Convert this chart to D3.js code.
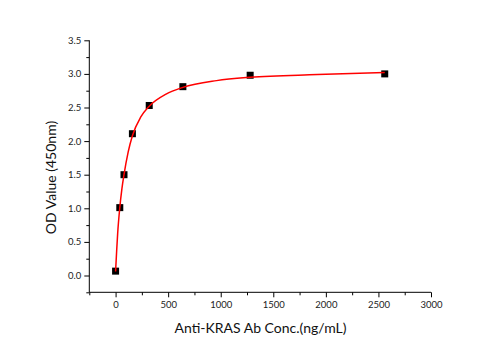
<!DOCTYPE html>
<html>
<head>
<meta charset="utf-8">
<script src="https://cdn.jsdelivr.net/npm/d3@7"></script>
<style>
  body { margin: 0; background: #fff; }
  text { font-family: Lato, "Open Sans", sans-serif; }
</style>
</head>
<body>
<div id="container"></div>
<script>
"use strict";

// measured points (conc in ng/mL, OD at 450nm)
const concs = [0, 40, 80, 160, 320, 640, 1280, 2560];
const odValues = [0.065, 1.01, 1.50, 2.11, 2.53, 2.81, 2.98, 3.00];

// fitted curve
const fitConcs = [0, 10, 20, 40, 60, 80, 120, 160, 240, 320, 480, 640, 960, 1280, 1920, 2560];
const fitOd = [0.06, 0.36, 0.63, 1.01, 1.29, 1.50, 1.84, 2.08, 2.36, 2.52, 2.70, 2.80, 2.90, 2.95, 2.99, 3.02];

const xTicks = [0, 500, 1000, 1500, 2000, 2500, 3000];
const yTicks = [0, 0.5, 1.0, 1.5, 2.0, 2.5, 3.0, 3.5];

// plot box
const margin = { top: 40.3, left: 89.3 },
    width = 431 - 89.3,
    height = 292.3 - 40.3;

const svg = d3.select("#container")
    .append("svg")
    .attr("width", 501)
    .attr("height", 350);

const g = svg.append("g")
    .attr("transform", `translate(${margin.left}, ${margin.top})`);

const x = d3.scaleLinear().domain([-250, 3000]).range([0, width]);
const y = d3.scaleLinear().domain([-0.25, 3.5]).range([height, 0]);

// x axis: majors + minors
const xAxis = g.append("g")
    .attr("transform", `translate(0, ${height})`)
    .call(d3.axisBottom(x).tickValues(xTicks).tickSize(5).tickPadding(4).tickFormat(d3.format("d")));
g.append("g")
    .attr("transform", `translate(0, ${height})`)
    .call(d3.axisBottom(x).tickValues(d3.range(-250, 3000, 500)).tickSize(3).tickFormat(""))
    .select(".domain").remove();

// y axis
const yAxis = g.append("g")
    .call(d3.axisLeft(y).tickValues(yTicks).tickSize(5).tickPadding(3).tickFormat(d3.format(".1f")));
g.append("g")
    .call(d3.axisLeft(y).tickValues(d3.range(-0.25, 3.5, 0.5)).tickSize(3).tickFormat(""))
    .select(".domain").remove();

xAxis.select(".domain").attr("d", `M0,0H${width}`);
yAxis.select(".domain").attr("d", `M0,0V${height}`);

g.selectAll(".tick text")
    .style("font-size", "9.5px")
    .style("font-family", "Lato, sans-serif")
    .attr("fill", "#222");

// markers
g.selectAll(".pt")
    .data(concs)
    .join("rect")
    .attr("class", "pt")
    .attr("x", (d) => x(d) - 3.5)
    .attr("y", (d, i) => y(odValues[i]) - 3.5)
    .attr("width", 7)
    .attr("height", 7)
    .attr("fill", "#000");

// fit line
const line = d3.line()
    .x((d) => x(d[0]))
    .y((d) => y(d[1]))
    .curve(d3.curveMonotoneX);

g.append("path")
    .datum(fitConcs.map((c, i) => [c, fitOd[i]]))
    .attr("d", line)
    .attr("fill", "none")
    .attr("stroke", "#ff0000")
    .attr("stroke-width", 1.5);

// axis titles
svg.append("text")
    .attr("x", 260.5)
    .attr("y", 333)
    .attr("text-anchor", "middle")
    .style("font-size", "14px")
    .attr("fill", "#111")
    .text("Anti-KRAS Ab Conc.(ng/mL)");

svg.append("text")
    .attr("transform", "translate(56, 177.5) rotate(-90)")
    .attr("text-anchor", "middle")
    .style("font-size", "14px")
    .attr("fill", "#111")
    .text("OD Value (450nm)");
</script>
</body>
</html>
